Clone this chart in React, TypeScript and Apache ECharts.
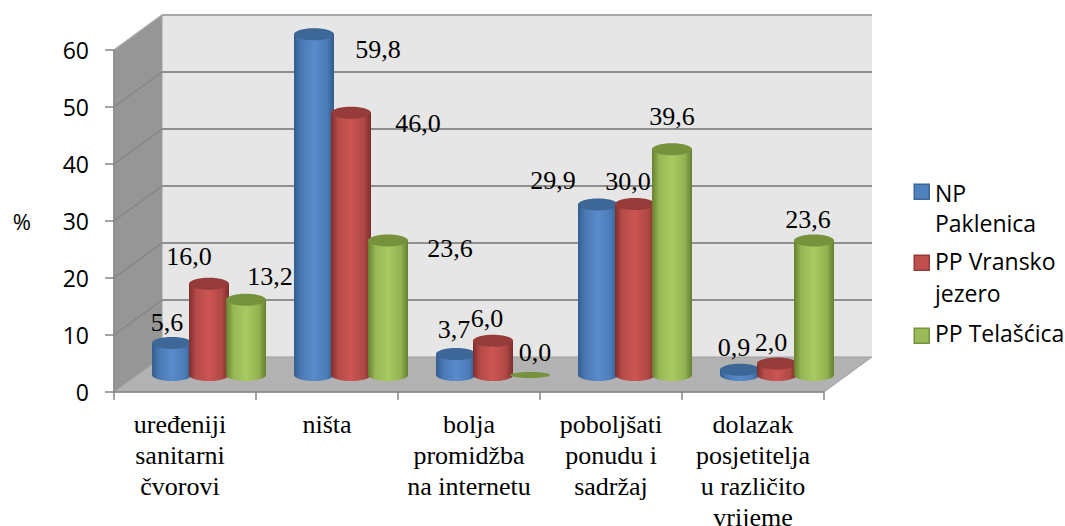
import React, { useEffect, useRef } from "react";
import * as echarts from "echarts";

const categories = [
  "uređeniji\nsanitarni\nčvorovi",
  "ništa",
  "bolja\npromidžba\nna internetu",
  "poboljšati\nponudu i\nsadržaj",
  "dolazak\nposjetitelja\nu različito\nvrijeme",
];
const legendLines = [["NP", "Paklenica"], ["PP Vransko", "jezero"], ["PP Telašćica"]];
const seriesNames = ["NP Paklenica", "PP Vransko jezero", "PP Telašćica"];
const npPaklenica = [5.6, 59.8, 3.7, 29.9, 0.9];
const ppVransko = [16.0, 46.0, 6.0, 30.0, 2.0];
const ppTelascica = [13.2, 23.6, 0.0, 39.6, 23.6];
const yTicks = { min: 0, max: 60, interval: 10 };

const W = 1065, H = 526;
const gridLeft = 114, gridRight = 824, gridTop = 50, gridBottom = 392;
const wallDx = 48, wallDy = -35;
const barDx = 24, barDy = -17, barStep = 37, barRx = 20, barRy = 6;

const palettes = [
  { base: "#4f81bd", stops: ["#335d8e", "#4a7ab4", "#5a8bcb", "#4b7cb7", "#325a8a"], top: "#3c6797" },
  { base: "#c0504d", stops: ["#7f2e2c", "#b54b48", "#cc5552", "#b04845", "#7d2d2b"], top: "#953b39" },
  { base: "#9bbb59", stops: ["#67802f", "#97b755", "#a8ca60", "#93b252", "#64802f"], top: "#76923c" },
];
const labelOffsets = [
  [[-5, -21], [64, 15], [-2, -24], [-45, -24], [-6, -22]],
  [[-20, -27], [67, 11], [-6, -22], [-7, -23], [-6, -21]],
  [[24, -23], [62, 8], [5, -23], [0, -33], [-6, -21]],
];
const allValues = [npPaklenica, ppVransko, ppTelascica];
const serif = "Liberation Serif";
const sans = "Open Sans";

function renderScene(params: any, api: any) {
  const cs = params.coordSys;
  const x0 = cs.x, x1 = cs.x + cs.width;
  const y = (v: number) => api.coord([0, v])[1];
  const children: any[] = [];
  const yB = y(0), yT = y(60);
  children.push({
    type: "polygon",
    shape: { points: [[x0 + wallDx, yT + wallDy], [x1 + wallDx, yT + wallDy], [x1 + wallDx, yB + wallDy], [x0 + wallDx, yB + wallDy]] },
    style: { fill: "#e6e6e6" },
  });
  children.push({
    type: "polygon",
    shape: { points: [[x0, yT], [x0 + wallDx, yT + wallDy], [x0 + wallDx, yB + wallDy], [x0, yB]] },
    style: { fill: "#969696", stroke: "#a0a0a0", lineWidth: 1 },
  });
  children.push({
    type: "polygon",
    shape: { points: [[x0, yB], [x0 + wallDx, yB + wallDy], [x1 + wallDx, yB + wallDy], [x1, yB]] },
    style: { fill: "#b2b2b2", stroke: "#a0a0a0", lineWidth: 1 },
  });
  for (let v = 10; v <= 60; v += 10) {
    children.push({
      type: "line",
      shape: { x1: x0 + wallDx, y1: y(v) + wallDy, x2: x1 + wallDx, y2: y(v) + wallDy },
      style: { stroke: v === 60 ? "#a8a8a8" : "#8f8f8f", lineWidth: 2 },
    });
    children.push({
      type: "line",
      shape: { x1: x0, y1: y(v), x2: x0 + wallDx, y2: y(v) + wallDy },
      style: { stroke: v === 60 ? "#a8a8a8" : "#858585", lineWidth: 1.5 },
    });
  }
  return { type: "group", children };
}

function renderBar(params: any, api: any) {
  const idx = params.seriesIndex - 1;
  const cat = api.value(0), val = api.value(1);
  const p = api.coord([cat, val]);
  const b = api.coord([cat, 0]);
  const cx = p[0] + barDx + (idx - 1) * barStep;
  const topY = p[1] + barDy, baseY = b[1] + barDy;
  const pal = palettes[idx];
  const grad = new echarts.graphic.LinearGradient(0, 0, 1, 0, [
    { offset: 0, color: pal.stops[0] },
    { offset: 0.18, color: pal.stops[1] },
    { offset: 0.5, color: pal.stops[2] },
    { offset: 0.82, color: pal.stops[3] },
    { offset: 1, color: pal.stops[4] },
  ]);
  const ry = val < 0.01 ? 3 : barRy;
  const children: any[] = [];
  if (val > 0) {
    children.push({ type: "ellipse", shape: { cx, cy: baseY, rx: barRx, ry }, style: { fill: grad } });
    children.push({ type: "rect", shape: { x: cx - barRx, y: topY, width: barRx * 2, height: baseY - topY }, style: { fill: grad } });
  }
  children.push({ type: "ellipse", shape: { cx, cy: topY, rx: barRx, ry }, style: { fill: pal.top } });
  return { type: "group", children };
}

function renderLabel(_params: any, api: any) {
  const cat = api.value(0), val = api.value(1), s = api.value(2);
  const p = api.coord([cat, val]);
  const off = labelOffsets[s][cat];
  return {
    type: "text",
    style: {
      text: val.toFixed(1).replace(".", ","),
      x: p[0] + barDx + (s - 1) * barStep + off[0],
      y: p[1] + barDy + off[1],
      align: "center",
      verticalAlign: "middle",
      fontFamily: serif,
      fontSize: 26,
      fill: "#000",
    },
  };
}

export default function App() {
  const ref = useRef<HTMLDivElement>(null);
  useEffect(() => {
    const chart = echarts.init(ref.current!, undefined, { renderer: "svg" });
    const markerTops = [183.5, 254.5, 327.5];
    const lineBaselines = [[202, 232], [270, 302], [342]];
    const legendGraphics: any[] = [];
    legendLines.forEach((lines, i) => {
      legendGraphics.push({
        type: "rect",
        left: 913.5,
        top: markerTops[i],
        shape: { width: 15, height: 15 },
        style: { fill: palettes[i].base, stroke: palettes[i].top, lineWidth: 1.5 },
      });
      lines.forEach((t, j) => {
        legendGraphics.push({
          type: "text",
          left: 935,
          top: lineBaselines[i][j] - 21,
          style: { text: t, fontFamily: sans, fontSize: 23, fill: "#000" },
        });
      });
    });
    chart.setOption({
      animation: false,
      backgroundColor: "#fff",
      grid: { left: gridLeft, width: gridRight - gridLeft, top: gridTop, height: gridBottom - gridTop, outerBoundsMode: "none" },
      xAxis: {
        type: "category",
        data: categories,
        z: 3,
        axisLine: { lineStyle: { color: "#868686", width: 1.5 } },
        axisTick: { show: true, alignWithLabel: false, length: 8, lineStyle: { color: "#868686", width: 1.5 } },
        axisLabel: {
          interval: 0,
          color: "#000",
          fontFamily: serif,
          fontSize: 26,
          lineHeight: 31,
          margin: 17,
          formatter: (v: string, i: number) => (i === 0 ? v.split("\n").map((l) => `{shift|${l}}`).join("\n") : v),
          rich: { shift: { color: "#000", fontFamily: serif, fontSize: 26, lineHeight: 31, padding: [0, 10, 0, 0] } },
        },
      },
      yAxis: {
        type: "value",
        ...yTicks,
        name: "%",
        nameLocation: "middle",
        nameRotate: 0,
        nameGap: 83,
        nameTextStyle: { color: "#000", fontFamily: sans, fontSize: 22, padding: [6, 0, 0, 0] },
        z: 3,
        splitLine: { show: false },
        axisLine: { show: true, lineStyle: { color: "#868686", width: 1.5 } },
        axisTick: { show: true, length: 9, lineStyle: { color: "#868686", width: 1.5 } },
        axisLabel: { color: "#000", fontFamily: sans, fontSize: 23, margin: 25 },
      },
      series: [
        { type: "custom", name: "scene", z: 1, silent: true, data: [[0, 0]], renderItem: renderScene, encode: { x: 0, y: 1 } },
        ...allValues.map((vals, s) => ({
          type: "custom",
          name: seriesNames[s],
          z: 2,
          itemStyle: { color: palettes[s].base },
          data: vals.map((v, c) => [c, v, s]),
          encode: { x: 0, y: 1 },
          renderItem: renderBar,
        })),
        {
          type: "custom",
          name: "values",
          z: 5,
          silent: true,
          data: allValues.flatMap((vals, s) => vals.map((v, c) => [c, v, s])),
          encode: { x: 0, y: 1 },
          renderItem: renderLabel,
        },
      ],
      graphic: legendGraphics,
    });
    return () => chart.dispose();
  }, []);
  return <div ref={ref} style={{ position: "fixed", left: 0, top: 0, width: W, height: H }} />;
}
